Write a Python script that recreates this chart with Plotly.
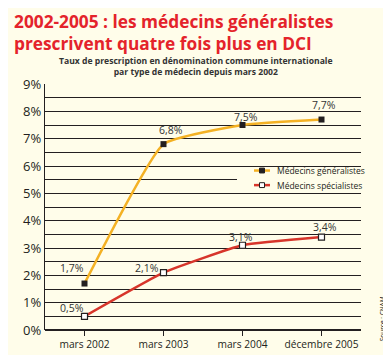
import plotly.graph_objects as go

categories = ["mars 2002", "mars 2003", "mars 2004", "décembre 2005"]
generalistes = [1.7, 6.8, 7.5, 7.7]
specialistes = [0.5, 2.1, 3.1, 3.4]
gen_labels = ["1,7%", "6,8%", "7,5%", "7,7%"]
spe_labels = ["0,5%", "2,1%", "3,1%", "3,4%"]
series_names = ["Médecins généralistes", "Médecins spécialistes"]
y_ticks = [0, 1, 2, 3, 4, 5, 6, 7, 8, 9]
y_tick_text = [f"{v}%" for v in y_ticks]
title_lines = ["2002-2005 : les médecins généralistes", "prescrivent quatre fois plus en DCI"]
subtitle_lines = ["Taux de prescription en dénomination commune internationale",
                  "par type de médecin depuis mars 2002"]

BG = "#FFFDEA"
ORANGE = "#F4B124"
RED = "#D7352B"
DARK = "#231F20"
FONT = "Open Sans, Lato, sans-serif"

fig = go.Figure()
fig.add_trace(go.Scatter(
    x=categories, y=generalistes, name=series_names[0],
    mode="lines+markers", line=dict(color=ORANGE, width=2.5, shape="spline", smoothing=0.4),
    marker=dict(symbol="square", size=6, color=DARK, line=dict(width=0)),
))
fig.add_trace(go.Scatter(
    x=categories, y=specialistes, name=series_names[1],
    mode="lines+markers", line=dict(color=RED, width=2.5, shape="spline", smoothing=0.4),
    marker=dict(symbol="square", size=6, color="white", line=dict(width=1.2, color=DARK)),
))

label_font = dict(family=FONT, size=10.5, color="#333333")
gen_shift = [(-13, 16), (7, 14), (3, 8), (2, 15)]
spe_shift = [(-13, 8), (-17, 5), (-2, 8), (3, 10)]
for i, c in enumerate(categories):
    fig.add_annotation(x=c, y=generalistes[i], text=gen_labels[i], showarrow=False,
                       xshift=gen_shift[i][0], yshift=gen_shift[i][1], font=label_font)
    fig.add_annotation(x=c, y=specialistes[i], text=spe_labels[i], showarrow=False,
                       xshift=spe_shift[i][0], yshift=spe_shift[i][1], font=label_font)

# paper coords helpers: x=(px-37)/316, y=(329-py)/253
def px(v):
    return (v - 37) / 316
def py(v):
    return (329 - v) / 253

# manual legend
fig.add_shape(type="rect", xref="paper", yref="paper", x0=px(229), x1=1.0, y0=py(186), y1=py(162),
              fillcolor=BG, line=dict(width=0), layer="above")
leg_y = [165, 180]
leg_colors = [ORANGE, RED]
leg_fill = [DARK, "white"]
for i in range(2):
    yy = py(leg_y[i])
    fig.add_shape(type="line", xref="paper", yref="paper", x0=px(246), x1=px(262), y0=yy, y1=yy,
                  line=dict(color=leg_colors[i], width=2.5), layer="above")
    fig.add_shape(type="rect", xref="paper", yref="paper", x0=px(251.5), x1=px(256.5),
                  y0=py(leg_y[i] + 2.5), y1=py(leg_y[i] - 2.5),
                  fillcolor=leg_fill[i], line=dict(color=DARK, width=1), layer="above")
    fig.add_annotation(xref="paper", yref="paper", x=px(267), y=yy, xanchor="left", yanchor="middle",
                       text=series_names[i], showarrow=False,
                       font=dict(family=FONT, size=8.5, color=DARK))

# Title & subtitle
fig.add_annotation(xref="paper", yref="paper", x=px(4), y=py(23), xanchor="left", yanchor="middle",
                   text="<b>" + "<br>".join(title_lines) + "</b>", showarrow=False, align="left",
                   font=dict(family=FONT, size=17.3, color="#E4232B"))
fig.add_annotation(xref="paper", yref="paper", x=px(188), y=py(57.5), xanchor="center", yanchor="middle",
                   text="<b>" + "<br>".join(subtitle_lines) + "</b>", showarrow=False, align="center",
                   font=dict(family=FONT, size=8.6, color="#333333"))
fig.add_annotation(xref="paper", yref="paper", x=px(374), y=py(317), xanchor="center", yanchor="middle",
                   text="Source : CNAM.", textangle=-90, showarrow=False,
                   font=dict(family=FONT, size=6.5, color="#111111"))

fig.update_layout(
    width=391, height=355,
    margin=dict(l=37, r=38, t=76, b=26),
    paper_bgcolor=BG, plot_bgcolor=BG,
    showlegend=False,
    xaxis=dict(type="category", range=[-0.5, 3.5], showgrid=False, showline=False,
               ticks="outside", ticklen=5, tickwidth=1, tickcolor=DARK,
               tickfont=dict(family=FONT, size=10.2, color=DARK)),
    yaxis=dict(range=[0, 9], tickvals=y_ticks, ticktext=y_tick_text,
               showgrid=True, gridcolor=DARK, gridwidth=1.2,
               minor=dict(dtick=0.5, showgrid=True, gridcolor=DARK, gridwidth=1.2),
               showline=True, linecolor=DARK, linewidth=1.2, zeroline=True, zerolinecolor=DARK, zerolinewidth=1.5,
               ticks="", tickfont=dict(family=FONT, size=13, color=DARK)),
)

fig.write_html("out.html")
